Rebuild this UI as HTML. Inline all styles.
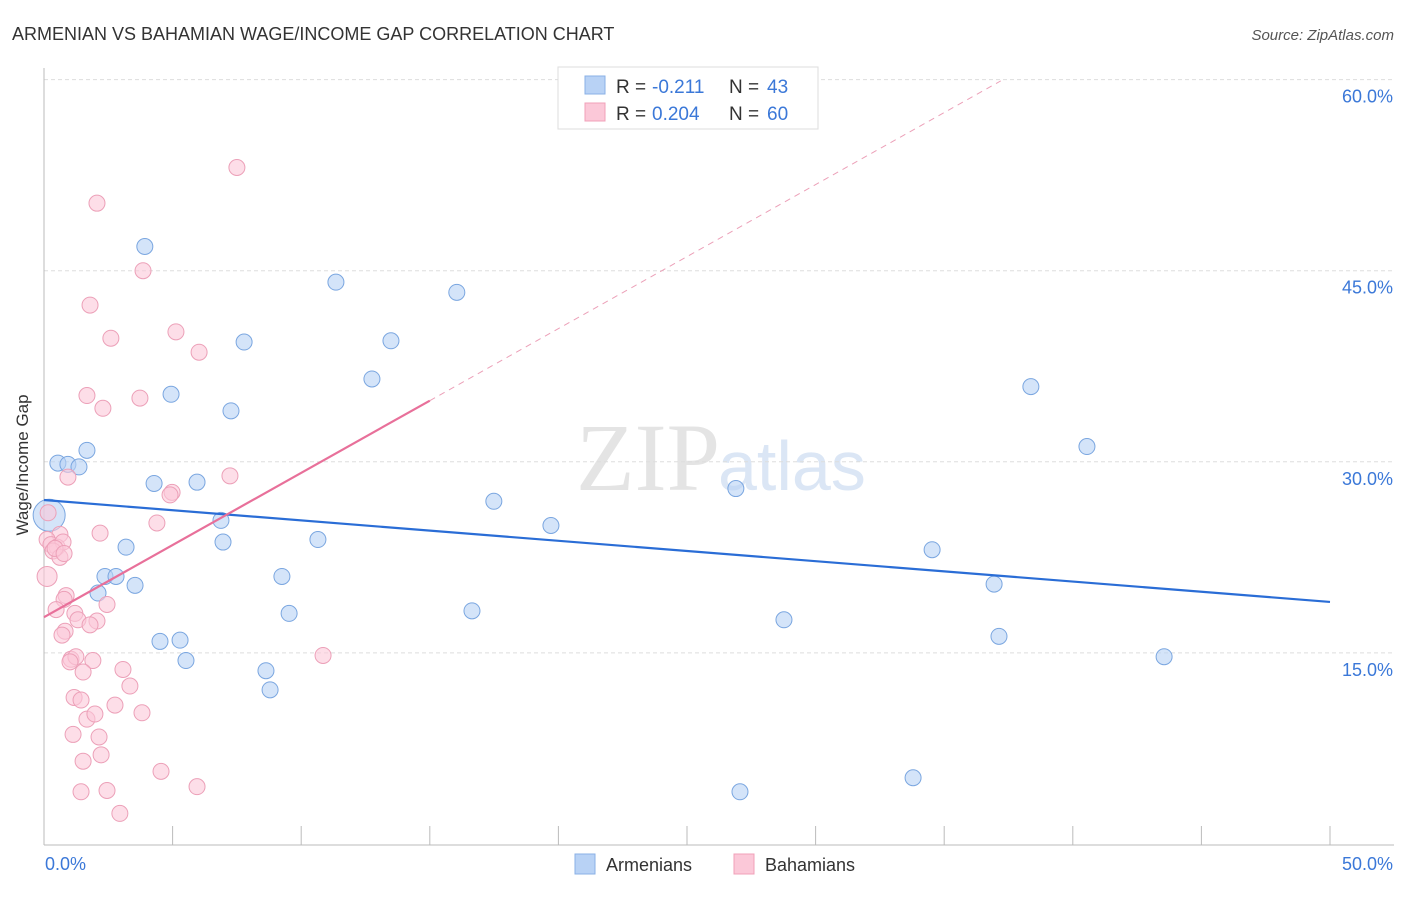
<!DOCTYPE html>
<html><head><meta charset="utf-8"><style>
body{margin:0;background:#fff;font-family:"Liberation Sans",sans-serif}
</style></head><body>
<svg width="1406" height="892" xmlns="http://www.w3.org/2000/svg">
<text x="12" y="40" font-size="18" fill="#333">ARMENIAN VS BAHAMIAN WAGE/INCOME GAP CORRELATION CHART</text>
<text x="1394" y="40" font-size="15" fill="#555" font-style="italic" text-anchor="end">Source: ZipAtlas.com</text>
<text x="720" y="490" font-size="96" fill="#e4e4e4" font-family="Liberation Serif" text-anchor="end">ZIP</text>
<text x="718" y="490" font-size="70" fill="#dbe6f5">atlas</text>
<g id="grid"></g>
<line x1="44" y1="68" x2="44" y2="845" stroke="#bbb"/>
<line x1="44" y1="845" x2="1394" y2="845" stroke="#bbb"/>
<g id="xt"></g>
<text x="18" y="455" font-size="17" fill="#333" transform="rotate(-90 28 455)" text-anchor="middle">Wage/Income Gap</text>
<text x="45" y="870" font-size="18" fill="#3b78d8">0.0%</text>
<text x="1393" y="870" font-size="18" fill="#3b78d8" text-anchor="end">50.0%</text>
<g id="pts"></g>
<g id="lines"></g>
<g>
<rect x="558" y="67" width="260" height="62" fill="#fff" stroke="#ddd"/>
<rect x="585" y="76" width="20" height="18" fill="#b8d2f5" stroke="#8ab0e6"/>
<rect x="585" y="103" width="20" height="18" fill="#fbc8d8" stroke="#f0a0b8"/>
<text y="93" font-size="19" fill="#333"><tspan x="616">R =</tspan><tspan x="652" fill="#3b78d8">-0.211</tspan><tspan x="729">N =</tspan><tspan x="767" fill="#3b78d8">43</tspan></text>
<text y="120" font-size="19" fill="#333"><tspan x="616">R =</tspan><tspan x="652" fill="#3b78d8">0.204</tspan><tspan x="729">N =</tspan><tspan x="767" fill="#3b78d8">60</tspan></text>
</g>
<g>
<rect x="575" y="854" width="20" height="20" fill="#b8d2f5" stroke="#8ab0e6"/>
<text x="606" y="871" font-size="18" fill="#333">Armenians</text>
<rect x="734" y="854" width="20" height="20" fill="#fbc8d8" stroke="#f0a0b8"/>
<text x="765" y="871" font-size="18" fill="#333">Bahamians</text>
</g>
</svg>
<script>
const yTicks=[15,30,45,60];
const yTickLabels=["15.0%","30.0%","45.0%","60.0%"];
const armX=[3.92,11.35,16.05,7.78,13.49,12.75,4.94,7.27,38.37,1.67,0.54,0.93,1.36,40.55,4.28,5.95,17.49,26.9,6.88,19.71,0.2,3.19,6.96,10.65,34.53,2.37,2.8,3.54,9.25,2.1,36.94,9.53,16.64,28.77,4.51,5.29,5.52,37.13,43.55,8.63,8.79,33.79,27.06];
const armY=[46.9,44.1,43.3,39.4,39.5,36.5,35.3,34.0,35.9,30.9,29.9,29.8,29.6,31.2,28.3,28.4,26.9,27.9,25.4,25.0,25.8,23.3,23.7,23.9,23.1,21.0,21.0,20.3,21.0,19.7,20.4,18.1,18.3,17.6,15.9,16.0,14.4,16.3,14.7,13.6,12.1,5.2,4.1];
const bahX=[7.5,2.06,3.85,1.79,5.13,2.6,6.03,1.67,3.73,2.29,7.23,0.93,4.98,4.9,4.39,0.62,0.12,0.27,0.51,0.74,0.35,0.62,0.12,0.86,0.78,0.47,1.2,2.45,1.32,2.06,1.79,0.82,0.7,1.05,1.24,1.9,1.01,3.07,1.52,3.34,1.17,1.44,2.76,1.67,3.81,1.98,2.14,1.13,2.22,10.85,1.52,4.55,1.44,2.45,5.95,2.95,0.16,0.43,0.78,2.18];
const bahY=[53.1,50.3,45.0,42.3,40.2,39.7,38.6,35.2,35.0,34.2,28.9,28.8,27.6,27.4,25.2,24.3,23.9,23.5,23.3,23.7,23.0,22.5,21.0,19.5,19.2,18.4,18.1,18.8,17.6,17.5,17.2,16.7,16.4,14.5,14.7,14.4,14.3,13.7,13.5,12.4,11.5,11.3,10.9,9.8,10.3,10.2,8.4,8.6,7.0,14.8,6.5,5.7,4.1,4.2,4.5,2.4,26.0,23.2,22.8,24.4];
const X=v=>44+v*25.72, Y=v=>844-v*12.74;
const NS="http://www.w3.org/2000/svg";
function mk(t,a,p){const e=document.createElementNS(NS,t);for(const k in a)e.setAttribute(k,a[k]);p.appendChild(e);return e;}
const grid=document.getElementById('grid');
yTicks.forEach((v,i)=>{
 const l=mk('line',{x1:44,x2:1394,y1:Y(v),y2:Y(v),stroke:'#ddd','stroke-dasharray':'4 3'},grid);
 
 
 const t=mk('text',{x:1393,y:Y(v)+23,'font-size':18,fill:'#3b78d8','text-anchor':'end'},grid);
 t.textContent=yTickLabels[i];
 
 
});
const xt=document.getElementById('xt');
for(let i=1;i<=10;i++){const l=mk('line',{x1:X(i*5),x2:X(i*5),y1:826,y2:845,stroke:'#bbb'},xt);
 
 }
const pts=document.getElementById('pts');
armX.forEach((x,i)=>{const c=mk('circle',{cx:X(x),cy:Y(armY[i]),r:i==20?16:8,fill:'#b8d2f5','fill-opacity':0.6,stroke:'#7aa6e0'},pts);
 
 });
bahX.forEach((x,i)=>{const c=mk('circle',{cx:X(x),cy:Y(bahY[i]),r:i==22?10:8,fill:'#fbc8d8','fill-opacity':0.6,stroke:'#eca0b8'},pts);
 
 });
const ln=document.getElementById('lines');
const a=mk('line',{x1:X(0),y1:Y(27.0),x2:X(50),y2:Y(19.0),stroke:'#2a6dd6','stroke-width':2.2},ln);


const b=mk('line',{x1:X(0),y1:Y(17.8),x2:X(15),y2:Y(34.8),stroke:'#e8709a','stroke-width':2.2},ln);


const d=mk('line',{x1:X(15),y1:Y(34.8),x2:X(37.2),y2:Y(59.9),stroke:'#eca0b8','stroke-width':1,'stroke-dasharray':'6 5'},ln);


</script>
</body></html>
